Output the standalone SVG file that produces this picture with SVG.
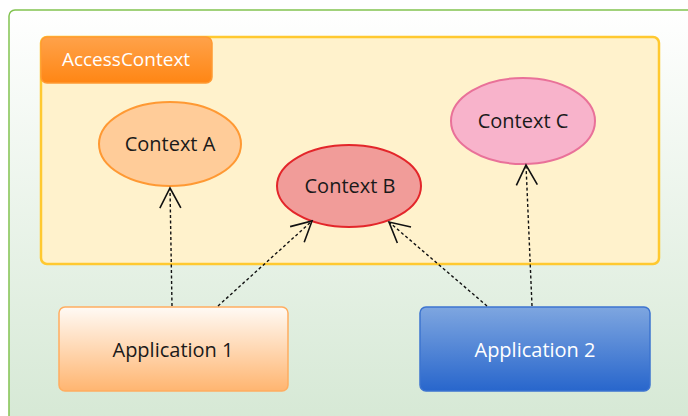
<svg xmlns="http://www.w3.org/2000/svg" width="688" height="416" viewBox="0 0 688 416">
<defs>
<linearGradient id="bg" x1="0" y1="0" x2="0" y2="1"><stop offset="0" stop-color="#ffffff"/><stop offset="1" stop-color="#d5e8d4"/></linearGradient>
<linearGradient id="tab" x1="0" y1="0" x2="0" y2="1"><stop offset="0" stop-color="#ffa24a"/><stop offset="1" stop-color="#ff8614"/></linearGradient>
<linearGradient id="g1" x1="0" y1="0" x2="0" y2="1"><stop offset="0" stop-color="#fffaf5"/><stop offset="1" stop-color="#ffb570"/></linearGradient>
<linearGradient id="g2" x1="0" y1="0" x2="0" y2="1"><stop offset="0" stop-color="#7ea6e0"/><stop offset="1" stop-color="#2866cc"/></linearGradient>
<marker id="arr" viewBox="-23 -13 25 26" markerWidth="25" markerHeight="26" refX="0" refY="0" orient="auto" markerUnits="userSpaceOnUse"><path d="M-20,-10.5 L0,0 L-20,10.5" fill="none" stroke="#111" stroke-width="1.6"/></marker>
</defs>
<style>
text{font-family:"Open Sans","Noto Sans",sans-serif;font-size:20px;text-anchor:middle;fill:#1a1a1a}
.w{fill:#ffffff}
.e{stroke-width:2}
.c{fill:none;stroke:#111;stroke-width:1.4;stroke-dasharray:3 2.5;marker-end:url(#arr)}
</style>
<g id="frame"><rect x="9" y="10" width="700" height="420" rx="6" fill="url(#bg)" stroke="#82c350" stroke-width="1.5"/></g>
<g id="accesscontext">
<rect x="41" y="37" width="618" height="227" rx="6" fill="#fff2cc" stroke="#ffc930" stroke-width="2.5"/>
<rect x="41" y="37" width="171" height="46" rx="6" fill="url(#tab)" stroke="#ff9a33" stroke-width="1.5"/>
<text class="w" x="126" y="66" style="font-size:19px">AccessContext</text>
</g>
<g id="contextA"><ellipse class="e" cx="170" cy="144" rx="71" ry="42" fill="#ffcc99" stroke="#ff9933"/><text x="170" y="151">Context A</text></g>
<g id="contextB"><ellipse class="e" cx="349" cy="186" rx="72" ry="41" fill="#f19c99" stroke="#e3262a"/><text x="350" y="193">Context B</text></g>
<g id="contextC"><ellipse class="e" cx="523" cy="121" rx="72" ry="43" fill="#f8b3cb" stroke="#e97199"/><text x="523" y="128">Context C</text></g>
<g id="app1"><rect x="59" y="307" width="229" height="84" rx="6" fill="url(#g1)" stroke="#ffad60" stroke-width="1.5"/><text x="173" y="357">Application 1</text></g>
<g id="app2"><rect x="420" y="307" width="230" height="84" rx="6" fill="url(#g2)" stroke="#3d74d0" stroke-width="1.5"/><text class="w" x="535" y="357">Application 2</text></g>
<g id="connectors">
<line class="c" x1="172" y1="306" x2="170" y2="188"/>
<line class="c" x1="218" y1="306" x2="312" y2="221"/>
<line class="c" x1="487" y1="306" x2="389" y2="222"/>
<line class="c" x1="532" y1="306" x2="526" y2="165"/>
</g>
</svg>
